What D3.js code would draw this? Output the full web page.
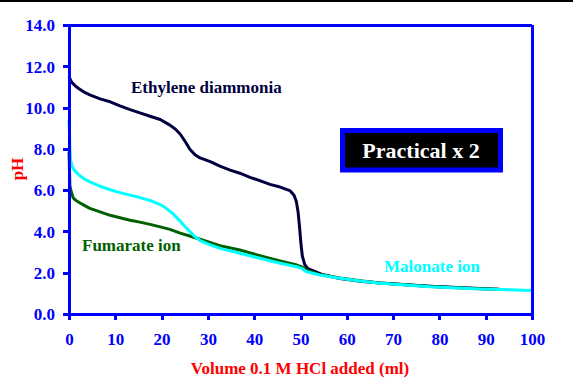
<!DOCTYPE html>
<html>
<head>
<meta charset="utf-8">
<script src="https://cdn.jsdelivr.net/npm/d3@7"></script>
<style>
  html, body { margin: 0; padding: 0; background: #fff; }
  svg { display: block; }
</style>
</head>
<body>
<svg id="chart" width="573" height="391"></svg>
<script>
// ---- data ----
const ethyleneVol = [0, 0.3, 0.6, 1.5, 2.4, 3.5, 4.5, 6.7, 8.9, 11, 13.2, 15.3, 17.5, 19.7, 21.8, 23, 24, 25.2, 26.1, 27.2, 28.3, 30.5, 32.6, 34.8, 36.9, 39.1, 41.2, 43.4, 45.6, 47.7, 48.6, 49.1, 49.5, 49.8, 50.1, 50.4, 50.9, 51.6, 52.8, 54.9, 58.5, 62.9, 67.2, 78, 88.8, 93];
const ethylenePH  = [11.5, 11.35, 11.22, 11.02, 10.88, 10.72, 10.62, 10.42, 10.28, 10.08, 9.9, 9.74, 9.58, 9.42, 9.15, 8.95, 8.72, 8.32, 7.98, 7.72, 7.56, 7.38, 7.16, 6.97, 6.82, 6.62, 6.46, 6.28, 6.15, 5.98, 5.75, 5.45, 4.9, 4.2, 3.4, 2.8, 2.4, 2.2, 2.09, 1.9, 1.72, 1.59, 1.5, 1.34, 1.23, 1.2];

const fumarateVol = [0, 0.1, 0.2, 0.4, 0.9, 1.5, 2.4, 3.5, 4.5, 6.7, 8.9, 11, 13.2, 15.3, 17.5, 19.7, 21.8, 24, 26.1, 28.3, 32.6, 36.9, 41.2, 45.6, 49.2, 50.3, 51.3, 54.2, 58.5, 62.9, 67.2, 78, 88.8, 93];
const fumaratePH  = [7.86, 7.0, 6.2, 6.0, 5.62, 5.5, 5.38, 5.24, 5.12, 4.95, 4.78, 4.66, 4.54, 4.45, 4.34, 4.22, 4.1, 3.92, 3.78, 3.62, 3.31, 3.1, 2.83, 2.57, 2.37, 2.28, 2.12, 1.91, 1.74, 1.61, 1.5, 1.33, 1.22, 1.19];

const malonateVol = [0, 0.1, 0.2, 0.35, 0.6, 0.9, 1.5, 2.4, 3.5, 4.5, 6.7, 8.9, 11, 13.2, 15.3, 17.5, 19.7, 21, 22.5, 24, 25, 26.1, 27.2, 28.3, 30.5, 32.6, 36.9, 41.2, 45.6, 49.2, 50.3, 51.3, 54.2, 58.5, 62.9, 67.2, 78, 88.8, 100];
const malonatePH  = [9.4, 8.8, 8.0, 7.45, 7.2, 7.05, 6.88, 6.69, 6.52, 6.4, 6.19, 6.02, 5.88, 5.76, 5.64, 5.5, 5.3, 5.12, 4.85, 4.5, 4.25, 3.99, 3.75, 3.56, 3.35, 3.18, 2.94, 2.7, 2.46, 2.29, 2.2, 2.05, 1.89, 1.73, 1.6, 1.49, 1.32, 1.21, 1.14];

const xTicks = [0, 10, 20, 30, 40, 50, 60, 70, 80, 90, 100];
const yTicks = [0, 2, 4, 6, 8, 10, 12, 14];

const seriesNames  = ["Ethylene diammonia", "Fumarate ion", "Malonate ion"];
const seriesColors = ["#000040", "#006000", "#00ffff"];

// ---- chart ----
const FONT = "'Liberation Serif', serif";
const svg = d3.select("#chart");
const x = d3.scaleLinear().domain([0, 100]).range([69, 532]);
const y = d3.scaleLinear().domain([0, 14]).range([314, 25]);
const blue = "#0000ff";

// top black rule
svg.append("rect").attr("x", 0).attr("y", 0).attr("width", 573).attr("height", 2).attr("fill", "#000");

// curves
const series = [
  { vol: ethyleneVol, ph: ethylenePH },
  { vol: fumarateVol, ph: fumaratePH },
  { vol: malonateVol, ph: malonatePH }
];
const line = d3.line().x(d => x(d[0])).y(d => y(d[1]));
series.forEach((s, i) => {
  const pts = s.vol.map((v, j) => [v, s.ph[j]]);
  svg.append("path").datum(pts)
    .attr("d", line)
    .attr("fill", "none")
    .attr("stroke", seriesColors[i])
    .attr("stroke-width", 3)
    .attr("stroke-linejoin", "round");
});

// frame (top and right)
svg.append("line").attr("x1", x(0)).attr("x2", x(100)).attr("y1", y(14)).attr("y2", y(14))
  .attr("stroke", blue).attr("stroke-width", 3).attr("shape-rendering", "crispEdges");
svg.append("line").attr("x1", x(100)).attr("x2", x(100)).attr("y1", y(14)).attr("y2", y(0))
  .attr("stroke", blue).attr("stroke-width", 3).attr("shape-rendering", "crispEdges");

// axes
const yAxis = d3.axisLeft(y).tickValues(yTicks).tickFormat(d3.format(".1f")).tickSizeInner(6).tickSizeOuter(0).tickPadding(8);
const xAxis = d3.axisBottom(x).tickValues(xTicks).tickFormat(d3.format("d")).tickSizeInner(6).tickSizeOuter(0).tickPadding(13);

const gy = svg.append("g").attr("transform", `translate(${x(0)},0)`).call(yAxis);
const gx = svg.append("g").attr("transform", `translate(0,${y(0)})`).call(xAxis);
[gy, gx].forEach(g => {
  g.attr("font-family", null).attr("font-size", null);
  g.selectAll("path.domain").attr("stroke", blue).attr("stroke-width", 3).attr("shape-rendering", "crispEdges");
  g.selectAll(".tick line").attr("stroke", blue).attr("stroke-width", 3).attr("shape-rendering", "crispEdges");
  g.selectAll(".tick text").attr("fill", blue).attr("font-size", 17);
});
gy.selectAll(".tick text").attr("dy", "0.34em");

// axis titles
svg.append("text").attr("x", 300).attr("y", 374).attr("text-anchor", "middle")
  .attr("fill", "#ff0000").attr("font-size", 17)
  .text("Volume 0.1 M HCl added (ml)");
svg.append("text").attr("transform", "translate(23,169) rotate(-90)").attr("text-anchor", "middle")
  .attr("fill", "#ff0000").attr("font-size", 17)
  .text("pH");

// series labels
const labelPos = [[131, 93], [82, 251], [384, 272]];
seriesNames.forEach((n, i) => {
  svg.append("text").attr("x", labelPos[i][0]).attr("y", labelPos[i][1])
    .attr("fill", seriesColors[i]).attr("font-size", 17)
    .text(n);
});

// "Practical x 2" box
svg.append("rect").attr("x", 342.5).attr("y", 130.5).attr("width", 158).attr("height", 39.5)
  .attr("fill", "#000").attr("stroke", blue).attr("stroke-width", 5);
svg.append("text").attr("x", 421).attr("y", 158).attr("text-anchor", "middle")
  .attr("fill", "#fff").attr("font-size", 22)
  .text("Practical x 2");

// font for every text
svg.selectAll("text").style("font-family", FONT).style("font-weight", "bold");
</script>
</body>
</html>
